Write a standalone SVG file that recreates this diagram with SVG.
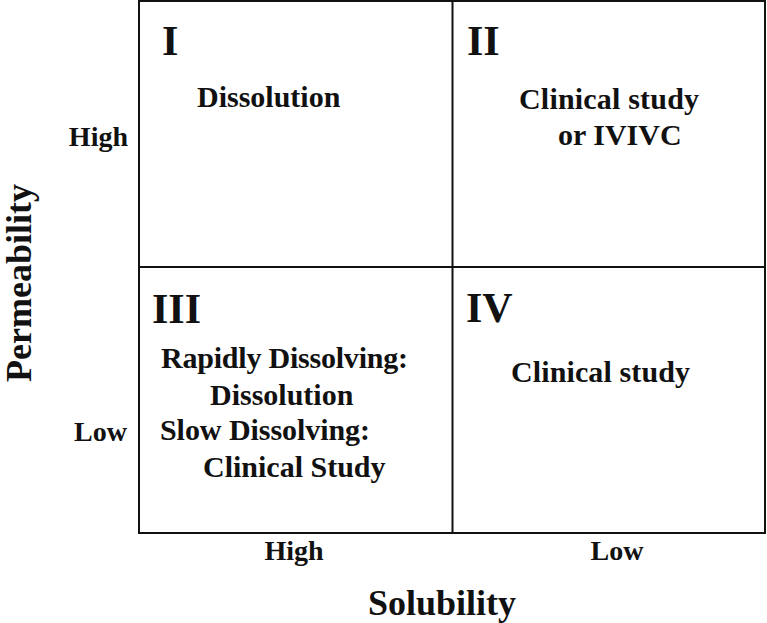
<svg xmlns="http://www.w3.org/2000/svg" width="767" height="623" viewBox="0 0 767 623">
<style>
text{font-family:"Liberation Serif","Times New Roman",serif;font-weight:bold;fill:#111}
.num{font-size:42px}
.body{font-size:30px}
.tick{font-size:28px}
.axis{font-size:36px}
.grid{fill:none;stroke:#111;stroke-width:2}
</style>
<rect width="767" height="623" fill="#fff"/>
<g id="connectors">
<rect class="grid" x="139" y="1" width="626" height="532"/>
<line class="grid" x1="452.500" y1="1" x2="452.500" y2="533"/>
<line class="grid" x1="139" y1="267" x2="765" y2="267"/>
</g>
<g id="q1">
<text class="num" x="162" y="55">I</text>
<text class="body" x="197" y="107">Dissolution</text>
</g>
<g id="q2">
<text class="num" x="467" y="55">II</text>
<text class="body" x="519" y="109" textLength="180">Clinical study</text>
<text class="body" x="558" y="145">or IVIVC</text>
</g>
<g id="q3">
<text class="num" x="152" y="323">III</text>
<text class="body" x="161" y="368" textLength="247">Rapidly Dissolving:</text>
<text class="body" x="210" y="405">Dissolution</text>
<text class="body" x="160" y="440" textLength="210">Slow Dissolving:</text>
<text class="body" x="203" y="477">Clinical Study</text>
</g>
<g id="q4">
<text class="num" x="466" y="322">IV</text>
<text class="body" x="511" y="382" textLength="179">Clinical study</text>
</g>
<g id="axes">
<text class="tick" x="128" y="146" text-anchor="end">High</text>
<text class="tick" x="127" y="441" text-anchor="end">Low</text>
<text class="tick" x="294" y="560" text-anchor="middle">High</text>
<text class="tick" x="617" y="560" text-anchor="middle">Low</text>
<text class="axis" x="442" y="615" text-anchor="middle">Solubility</text>
<text class="axis" x="0" y="0" text-anchor="middle" transform="translate(31,283) rotate(-90)">Permeability</text>
</g>
</svg>
